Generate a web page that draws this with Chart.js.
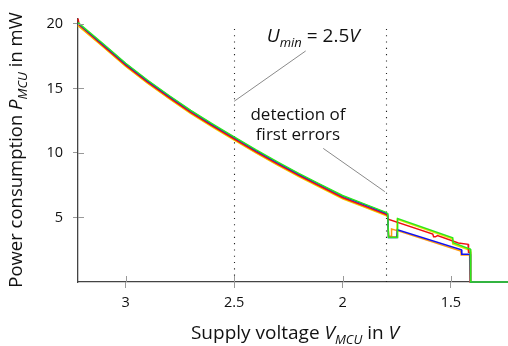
<!DOCTYPE html>
<html lang="en">
<head>
<meta charset="UTF-8">
<title>Power consumption vs. supply voltage</title>
<script src="https://cdn.jsdelivr.net/npm/chart.js"></script>
<style>
  html, body { margin: 0; padding: 0; background: #fff; }
  #wrap { width: 508px; height: 346px; }
</style>
</head>
<body>
<div id="wrap"><canvas id="powerChart" width="508" height="346"></canvas></div>
<script>
  // Measured power (mW) against supply voltage (V), one run per colour
  const voltGreen  = [3.22, 3.1, 3.0, 2.9, 2.8, 2.7, 2.6, 2.5, 2.4, 2.3, 2.2, 2.1, 2.0, 1.9, 1.8, 1.792, 1.788, 1.748, 1.746, 1.492, 1.49, 1.42, 1.411, 1.409, 1.237];
  const powerGreen = [20.1, 18.4, 16.95, 15.65, 14.45, 13.3, 12.25, 11.25, 10.25, 9.3, 8.4, 7.55, 6.7, 6.05, 5.4, 5.3, 3.45, 3.45, 4.92, 3.42, 3.05, 2.6, 2.55, 0, 0];

  const voltBlue  = [3.22, 3.1, 3.0, 2.9, 2.8, 2.7, 2.6, 2.5, 2.4, 2.3, 2.2, 2.1, 2.0, 1.9, 1.8, 1.792, 1.788, 1.749, 1.747, 1.452, 1.45, 1.412, 1.41, 1.237];
  const powerBlue = [20.05, 18.35, 16.9, 15.6, 14.4, 13.25, 12.2, 11.2, 10.2, 9.25, 8.35, 7.5, 6.65, 6.0, 5.35, 5.25, 3.45, 3.45, 4.05, 2.5, 2.15, 2.15, 0, 0];

  const voltRed  = [3.22, 3.215, 3.1, 3.0, 2.9, 2.8, 2.7, 2.6, 2.5, 2.4, 2.3, 2.2, 2.1, 2.0, 1.9, 1.8, 1.795, 1.79, 1.584, 1.58, 1.572, 1.562, 1.466, 1.421, 1.419, 1.411, 1.41, 1.237];
  const powerRed = [20.4, 19.95, 18.25, 16.8, 15.5, 14.3, 13.15, 12.1, 11.1, 10.1, 9.15, 8.25, 7.4, 6.55, 5.9, 5.25, 5.2, 4.87, 3.72, 3.5, 3.5, 3.6, 3.02, 2.92, 2.3, 2.3, 0, 0];

  const voltOrange  = [3.22, 3.1, 3.0, 2.9, 2.8, 2.7, 2.6, 2.5, 2.4, 2.3, 2.2, 2.1, 2.0, 1.9, 1.8, 1.792, 1.788, 1.776, 1.774, 1.748, 1.455, 1.453, 1.414, 1.412, 1.237];
  const powerOrange = [19.9, 18.2, 16.75, 15.45, 14.25, 13.1, 12.05, 11.05, 10.05, 9.1, 8.2, 7.35, 6.5, 5.85, 5.2, 5.15, 3.55, 3.55, 4.1, 3.98, 2.4, 2.1, 2.1, 0, 0];

  const voltYellow  = [3.22, 3.1, 3.0, 2.9, 2.8, 2.7, 2.6, 2.5, 2.4, 2.3, 2.2, 2.1, 2.0, 1.9, 1.8, 1.792, 1.787, 1.75, 1.748, 1.494, 1.492, 1.42, 1.411, 1.409, 1.237];
  const powerYellow = [19.85, 18.15, 16.7, 15.4, 14.2, 13.05, 12.0, 11.0, 10.0, 9.05, 8.15, 7.3, 6.45, 5.8, 5.15, 5.1, 3.5, 3.5, 4.85, 3.35, 2.95, 2.5, 2.45, 0, 0];

  // axis ranges and ticks
  const xTicks = [3, 2.5, 2, 1.5];
  const yTicks = [5, 10, 15, 20];
  const xMin = 1.237, xMax = 3.22;
  const yMin = 0, yMax = 20.4;

  // marked voltages
  const uMin = 2.5;
  const firstErrorVolt = 1.8;

  const FONT = '"Open Sans", Lato, sans-serif';

  const series = [
    { v: voltGreen,  p: powerGreen,  color: '#2ee81a' },
    { v: voltBlue,   p: powerBlue,   color: '#1010f0' },
    { v: voltRed,    p: powerRed,    color: '#f01010' },
    { v: voltOrange, p: powerOrange, color: '#ff9a10' },
    { v: voltYellow, p: powerYellow, color: '#e8e000' }
  ];

  // text made of runs: [text, size, italic, subscript]
  function drawRuns(ctx, runs, x, y, align) {
    let total = 0;
    runs.forEach(r => {
      ctx.font = (r[2] ? 'italic ' : '') + r[1] + 'px ' + FONT;
      r.w = ctx.measureText(r[0]).width;
      total += r.w;
    });
    let cx = align === 'center' ? x - total / 2 : x;
    runs.forEach(r => {
      ctx.font = (r[2] ? 'italic ' : '') + r[1] + 'px ' + FONT;
      ctx.fillText(r[0], cx, y + (r[3] ? r[1] * 0.35 : 0));
      cx += r.w;
    });
  }

  const overlay = {
    id: 'overlay',
    beforeDatasetsDraw(chart) {
      const { ctx, scales: { x, y } } = chart;
      ctx.save();
      ctx.strokeStyle = '#222';
      ctx.lineWidth = 1.1;
      ctx.setLineDash([1.1, 5.2]);
      [uMin, firstErrorVolt].forEach(v => {
        const px = Math.round(x.getPixelForValue(v)) + 0.5;
        ctx.beginPath();
        ctx.moveTo(px, y.getPixelForValue(0));
        ctx.lineTo(px, y.getPixelForValue(20));
        ctx.stroke();
      });
      ctx.restore();
    },
    afterDraw(chart) {
      const { ctx, chartArea, scales: { x, y } } = chart;
      ctx.save();

      // tick marks reaching into the plot
      ctx.strokeStyle = '#999';
      ctx.lineWidth = 1;
      xTicks.forEach(v => {
        const px = Math.round(x.getPixelForValue(v)) + 0.5;
        ctx.beginPath();
        ctx.moveTo(px, chartArea.bottom);
        ctx.lineTo(px, chartArea.bottom - 6);
        ctx.stroke();
      });
      yTicks.forEach(v => {
        const py = Math.round(y.getPixelForValue(v)) + 0.5;
        ctx.beginPath();
        ctx.moveTo(chartArea.left, py);
        ctx.lineTo(chartArea.left + 6, py);
        ctx.stroke();
      });

      // callout lines
      ctx.strokeStyle = '#8a8a8a';
      ctx.lineWidth = 1;
      ctx.beginPath();
      ctx.moveTo(x.getPixelForValue(uMin), y.getPixelForValue(14.0));
      ctx.lineTo(x.getPixelForValue(2.17), y.getPixelForValue(17.9));
      ctx.moveTo(x.getPixelForValue(2.089), y.getPixelForValue(10.35));
      ctx.lineTo(x.getPixelForValue(firstErrorVolt + 0.005), y.getPixelForValue(7.0));
      ctx.stroke();

      ctx.fillStyle = '#111';
      ctx.textBaseline = 'alphabetic';
      ctx.textAlign = 'left';

      // U_min label
      drawRuns(ctx, [['U', 19, true], ['min', 13, true, true], [' = ' + uMin, 19, false], ['V', 19, true]],
        x.getPixelForValue(2.349), 42, 'left');

      // detection label
      drawRuns(ctx, [['detection of', 17, false]], 298, 120, 'center');
      drawRuns(ctx, [['first errors', 17, false]], 298, 140, 'center');

      // axis titles
      drawRuns(ctx, [['Supply voltage ', 19, false], ['V', 19, true], ['MCU', 13, true, true], [' in ', 19, false], ['V', 19, true]],
        295, 339, 'center');

      ctx.translate(22, 150);
      ctx.rotate(-Math.PI / 2);
      drawRuns(ctx, [['Power consumption ', 18.5, false], ['P', 18.5, true], ['MCU', 13, true, true], [' in mW', 18.5, false]],
        0, 0, 'center');

      ctx.restore();
    }
  };

  new Chart(document.getElementById('powerChart'), {
    type: 'line',
    data: {
      datasets: series.map(s => ({
        data: s.v.map((v, i) => ({ x: v, y: s.p[i] })),
        borderColor: s.color,
        borderWidth: 1.5,
        pointRadius: 0,
        tension: 0,
        fill: false,
        clip: false
      }))
    },
    options: {
      responsive: false,
      animation: false,
      events: [],
      layout: { padding: { top: 15, right: 0, left: 0, bottom: 0 } },
      plugins: { legend: { display: false }, tooltip: { enabled: false } },
      scales: {
        x: {
          type: 'linear',
          reverse: true,
          min: xMin,
          max: xMax,
          afterBuildTicks: s => { s.ticks = xTicks.map(value => ({ value })); },
          afterFit: s => { s.height = 64; },
          grid: { drawOnChartArea: false, tickLength: 6, color: '#999' },
          border: { color: '#444', width: 1.3 },
          ticks: { padding: 6, color: '#111', font: { family: FONT, size: 14.5 }, callback: v => String(v) }
        },
        y: {
          min: yMin,
          max: yMax,
          afterBuildTicks: s => { s.ticks = yTicks.map(value => ({ value })); },
          afterFit: s => { s.width = 78; },
          grid: { drawOnChartArea: false, tickLength: 5, color: '#999' },
          border: { color: '#444', width: 1.3 },
          ticks: { padding: 10, color: '#111', font: { family: FONT, size: 14.5 }, callback: v => String(v) }
        }
      }
    },
    plugins: [overlay]
  });
</script>
</body>
</html>
